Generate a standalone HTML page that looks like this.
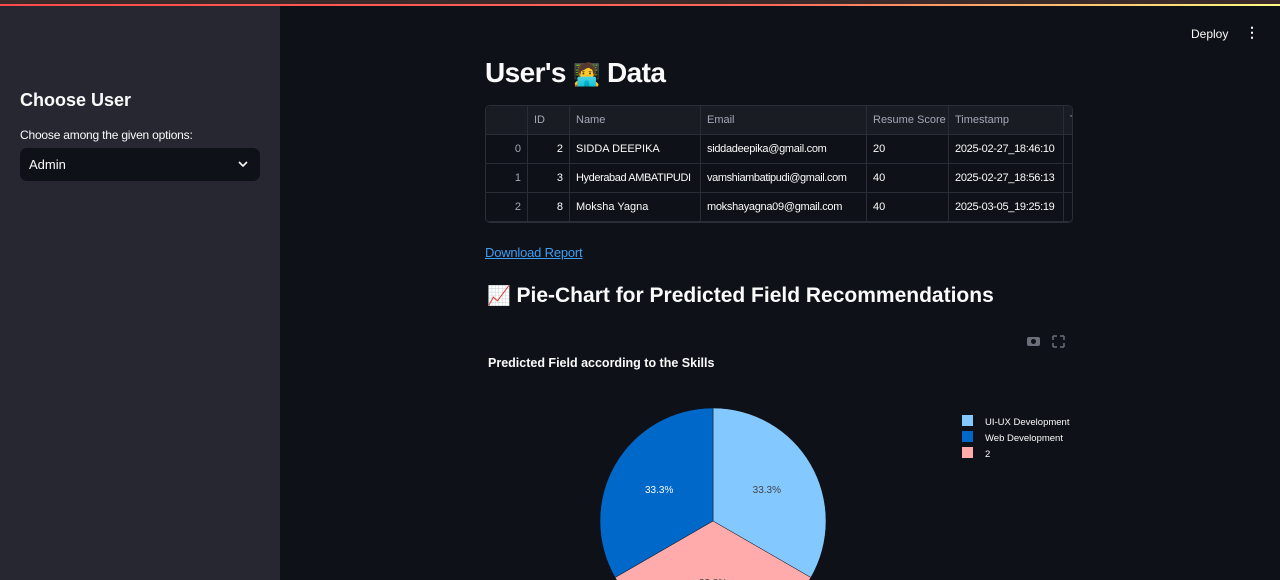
<!DOCTYPE html>
<html style="overflow:hidden"><head><meta charset="utf-8">
<style>
body{margin:0;width:1280px;height:580px;overflow:hidden;background:#0e1117;font-family:"Liberation Sans","Noto Sans CJK JP",sans-serif;color:#fafafa;position:relative}
.topbar{position:absolute;left:0;top:0;width:1280px;height:4px;background:#3a2a2a;}
.topline{position:absolute;left:0;top:4px;width:1280px;height:2px;background:linear-gradient(90deg,#ff4b4b,#ff6a5a 60%,#fffd80);}
.side{position:absolute;left:0;top:6px;width:280px;height:574px;background:#262730}
table{border-collapse:collapse;font-size:11px;color:#fafafa;table-layout:fixed;width:600px}
td,th{border:1px solid #2a2d36;height:28px;padding:0 6px;white-space:nowrap;overflow:hidden}
th{font-weight:normal;color:#a3a8b4;text-align:left;background:#1a1c24}
</style></head><body>
<div class="topbar"></div>
<div class="topline"></div>
<div class="side">
 <div style="position:absolute;left:20px;top:84px;font-size:18px;font-weight:bold">Choose User</div>
 <div style="position:absolute;left:20px;top:122px;font-size:12px;color:#fafafa;letter-spacing:-0.2px">Choose among the given options:</div>
 <div style="position:absolute;left:20px;top:142px;width:240px;height:33px;background:#0e1117;border-radius:7px">
  <span style="position:absolute;left:9px;top:9px;font-size:13px">Admin</span>
  <svg style="position:absolute;right:12px;top:12px" width="10" height="8"><path d="M1 2l4 4 4-4" stroke="#fafafa" stroke-width="1.6" fill="none"/></svg>
 </div>
</div>
<div style="position:absolute;left:1191px;top:27px;font-size:12px">Deploy</div>
<div style="position:absolute;left:1245px;top:24px;font-size:14px;font-weight:bold">&#8942;</div>
<div style="position:absolute;left:485px;top:57px;font-size:28px;font-weight:bold;letter-spacing:-0.6px">User's <span style="font-size:22px">🧑‍💻</span> Data</div>
<div style="position:absolute;left:485px;top:105px;width:586px;height:116px;overflow:hidden;border:1px solid #2a2d36;border-radius:5px">
<table style="margin:-1px 0 0 -1px">
<colgroup><col style="width:42px"><col style="width:42px"><col style="width:131px"><col style="width:166px"><col style="width:82px"><col style="width:115px"><col style="width:22px"></colgroup>
<tr><th></th><th>ID</th><th>Name</th><th>Email</th><th>Resume Score</th><th>Timestamp</th><th>T</th></tr>
<tr><td style="text-align:right;color:#a3a8b4">0</td><td style="text-align:right">2</td><td>SIDDA DEEPIKA</td><td style="letter-spacing:-0.3px">siddadeepika@gmail.com</td><td>20</td><td style="letter-spacing:-0.3px">2025-02-27_18:46:10</td><td></td></tr>
<tr><td style="text-align:right;color:#a3a8b4">1</td><td style="text-align:right">3</td><td style="letter-spacing:-0.4px">Hyderabad AMBATIPUDI</td><td style="letter-spacing:-0.4px">vamshiambatipudi@gmail.com</td><td>40</td><td style="letter-spacing:-0.3px">2025-02-27_18:56:13</td><td></td></tr>
<tr><td style="text-align:right;color:#a3a8b4">2</td><td style="text-align:right">8</td><td>Moksha Yagna</td><td style="letter-spacing:-0.3px">mokshayagna09@gmail.com</td><td>40</td><td style="letter-spacing:-0.3px">2025-03-05_19:25:19</td><td></td></tr>
</table></div>
<div style="position:absolute;left:485px;top:245px;font-size:13px;color:#3d9df3;text-decoration:underline;letter-spacing:-0.2px">Download Report</div>
<div style="position:absolute;left:487px;top:284px;font-size:21px;font-weight:bold"><span style="font-size:19px">📈</span> Pie-Chart for Predicted Field Recommendations</div>
<svg id="chart" style="position:absolute;left:0;top:0" width="1280" height="580">
 <text x="488" y="367" font-size="12.5" font-weight="bold" fill="#fafafa" font-family="Liberation Sans">Predicted Field according to the Skills</text>
 <g fill="#6b6f7a">
  <rect x="1027" y="337" width="13" height="9" rx="2"/><circle cx="1033.5" cy="341.5" r="2.5" fill="#0e1117"/>
  <path d="M1053 336v4M1053 336h4M1064 336v4M1064 336h-4M1053 347v-4M1053 347h4M1064 347v-4M1064 347h-4" stroke="#6b6f7a" stroke-width="1.5" fill="none"/>
 </g>
 <g id="slices"></g><g id="legend"></g>
</svg>
<script>
const labels=["UI-UX Development","2","Web Development"];
const values=[1,1,1];
const legendOrder=["UI-UX Development","Web Development","2"];
const colors={"UI-UX Development":"#83c9ff","Web Development":"#0068c9","2":"#ffabab"};
const textColors={"UI-UX Development":"#444","Web Development":"#fafafa","2":"#444"};
const ns="http://www.w3.org/2000/svg";
const cx=713,cy=521,r=113;
const total=values.reduce((a,b)=>a+b,0);
const g=document.getElementById('slices');
let a0=0;
values.forEach((v,i)=>{
 const a1=a0+v/total*2*Math.PI;
 const p=(a)=>[cx+r*Math.sin(a),cy-r*Math.cos(a)];
 const [x0,y0]=p(a0),[x1,y1]=p(a1);
 const path=document.createElementNS(ns,'path');
 path.setAttribute('d',`M${cx},${cy}L${x0},${y0}A${r},${r} 0 ${(a1-a0)>Math.PI?1:0} 1 ${x1},${y1}Z`);
 path.setAttribute('fill',colors[labels[i]]);
 path.setAttribute('stroke','#0e1117');path.setAttribute('stroke-width','0.5');
 
 
 g.appendChild(path);
 const am=(a0+a1)/2;
 const t=document.createElementNS(ns,'text');
 t.setAttribute('x',cx+r*0.55*Math.sin(am));t.setAttribute('y',cy-r*0.55*Math.cos(am)+3);
 t.setAttribute('text-anchor','middle');t.setAttribute('font-size','10');
 t.setAttribute('font-family','Liberation Sans');t.setAttribute('fill',textColors[labels[i]]);
 t.textContent=(v/total*100).toFixed(1)+'%';
 
 
 g.appendChild(t);
 a0=a1;
});
const lg=document.getElementById('legend');
legendOrder.forEach((l,i)=>{
 const y=421+i*16;
 const rc=document.createElementNS(ns,'rect');
 rc.setAttribute('x',962);rc.setAttribute('y',y-6);rc.setAttribute('width',11);rc.setAttribute('height',11);
 rc.setAttribute('fill',colors[l]);
 
 
 lg.appendChild(rc);
 const t=document.createElementNS(ns,'text');
 t.setAttribute('x',985);t.setAttribute('y',y+4);t.setAttribute('font-size','9.5');
 t.setAttribute('font-family','Liberation Sans');t.setAttribute('fill','#fafafa');
 t.textContent=l;
 
 
 lg.appendChild(t);
});
</script>
</body></html>
